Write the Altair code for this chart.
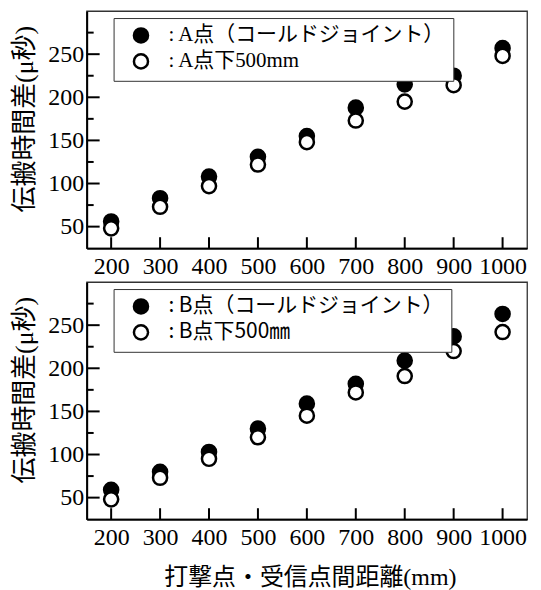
import altair as alt
import pandas as pd

# ---- data ----
distance = [200, 300, 400, 500, 600, 700, 800, 900, 1000]
a_joint = [56, 83, 108, 131, 155, 188, 215, 225, 257]
a_below = [48, 73, 97, 122, 148, 173, 195, 214, 248]
b_joint = [59, 80, 103, 130, 159, 182, 209, 237, 263]
b_below = [48, 73, 95, 120, 145, 172, 191, 220, 242]

a_labels = [": A点（コールドジョイント）", ": A点下500mm"]
b_labels = [": B点（コールドジョイント）", ": B点下500㎜"]

x_ticks = [200, 300, 400, 500, 600, 700, 800, 900, 1000]
y_major = [50, 100, 150, 200, 250]
y_minor = [75, 125, 175, 225, 275]
x_domain = [150, 1050]
y_domain = [25, 300]

y_title = "伝搬時間差(μ秒)"
x_title = "打撃点・受信点間距離(mm)"

# ---- styling ----
W, H = 442, 238
SERIF = "Liberation Serif, Noto Sans CJK JP"
SANS = "Noto Sans CJK JP"


def panel(joint, below, labels, legend_font, with_x_title):
    df = pd.DataFrame({
        "d": distance + distance,
        "t": joint + below,
        "s": [labels[0]] * len(distance) + [labels[1]] * len(distance),
    })
    xs = alt.Scale(domain=x_domain, nice=False, zero=False)
    ys = alt.Scale(domain=y_domain, nice=False, zero=False)

    xkw = dict(values=x_ticks, ticks=False, tickSize=0, labelPadding=6,
               labelOverlap=False, labelFlush=False, format="d")
    if with_x_title:
        xkw.update(title=x_title, titleFont=SERIF, titleFontSize=24,
                   titleFontWeight="normal", titleColor="black",
                   titleX=224, titleY=59, titleAlign="center",
                   titleBaseline="middle")
    else:
        xkw.update(title="")
    xaxis = alt.Axis(**xkw)
    yaxis = alt.Axis(values=y_major, ticks=False, tickSize=0, labelPadding=3,
                     labelOverlap=False, format="d",
                     title=y_title, titleFont=SERIF, titleFontSize=26,
                     titleFontWeight="normal", titleColor="black",
                     titleAngle=270, titleX=-62, titleY=108,
                     titleAlign="center", titleBaseline="middle")

    ymaj = alt.Chart(pd.DataFrame({"v": y_major})).mark_rule(
        color="black", strokeWidth=2).encode(
        y=alt.Y("v:Q", scale=ys, axis=yaxis),
        x=alt.value(0), x2=alt.value(13))
    ymin = alt.Chart(pd.DataFrame({"v": y_minor})).mark_rule(
        color="black", strokeWidth=2).encode(
        y=alt.Y("v:Q", scale=ys, axis=yaxis),
        x=alt.value(0), x2=alt.value(7))
    xt = alt.Chart(pd.DataFrame({"v": x_ticks})).mark_rule(
        color="black", strokeWidth=2).encode(
        x=alt.X("v:Q", scale=xs, axis=xaxis),
        y=alt.value(H), y2=alt.value(H - 11))

    pts = alt.Chart(df).mark_point(
        shape="circle", filled=True, size=200, stroke="black",
        strokeWidth=2.5, opacity=1).encode(
        x=alt.X("d:Q", scale=xs, axis=xaxis),
        y=alt.Y("t:Q", scale=ys, axis=yaxis),
        fill=alt.Fill("s:N", scale=alt.Scale(domain=labels, range=["black", "white"]),
                      legend=alt.Legend(
                          orient="none", legendX=27, legendY=7, title=None,
                          direction="vertical",
                          labelFont=legend_font, labelFontSize=21,
                          labelColor="black", labelLimit=500,
                          symbolType="circle", symbolSize=200,
                          symbolStrokeColor="black", symbolStrokeWidth=2.5,
                          symbolOpacity=1, symbolOffset=10, labelOffset=17,
                          strokeColor="#333", fillColor="white",
                          padding=7, rowPadding=1)),
    )
    return alt.layer(ymaj, ymin, xt, pts).properties(width=W, height=H)


top = panel(a_joint, a_below, a_labels, SERIF, False)
bottom = panel(b_joint, b_below, b_labels, SANS, True)

chart = alt.vconcat(top, bottom, spacing=34, bounds="flush").resolve_scale(
    fill="independent").resolve_legend(fill="independent").properties(
    padding={"left": 11, "top": 9, "right": 13, "bottom": 5},
    background="white",
).configure_view(stroke="#333", strokeWidth=1.3).configure_axis(
    domainColor="black", domainWidth=2, grid=False,
    labelColor="black", labelFont=SERIF, labelFontSize=24)

chart.save("out.html", embed_options={"renderer": "svg", "actions": False})
